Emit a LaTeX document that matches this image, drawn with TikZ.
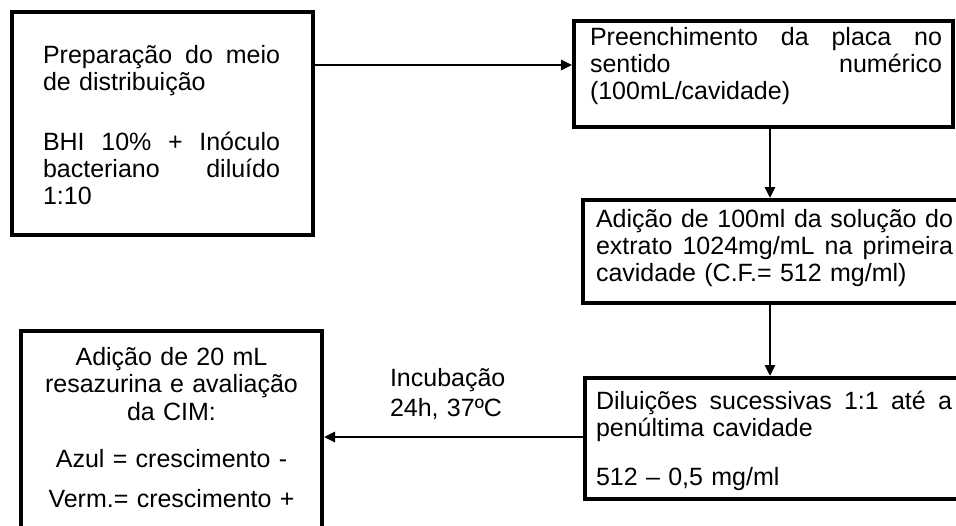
\documentclass[tikz,border=0pt]{standalone}
\usepackage{fontspec}
\setmainfont{Liberation Sans}
\usetikzlibrary{arrows.meta}
\newcommand\fl{\rule{0pt}{25pt}}
\newcommand\jl[2]{\leavevmode\hbox to #1{#2}}
\tikzset{
  frame/.style={draw=black, line width=4pt, rectangle, fill=white, inner sep=0pt},
  txt/.style={inner sep=0pt, outer sep=0pt, anchor=north west, align=left,
    font=\fontsize{25}{27}\selectfont},
  ctxt/.style={inner sep=0pt, outer sep=0pt, anchor=north, align=center,
    font=\fontsize{25}{27.5}\selectfont},
  arr/.style={draw=black, line width=2.6pt, -{Triangle[length=11pt,width=10pt]}}
}
\begin{document}
\begin{tikzpicture}[x=1pt,y=-1pt]
\useasboundingbox (0,0) rectangle (956,525);
\fill[white] (0,0) rectangle (956,525);
\clip (0,0) rectangle (956,525);
% frames
\node[frame, minimum width=301pt, minimum height=223pt] (f1) at (162.5,123.5) {};
\node[frame, minimum width=379pt, minimum height=106pt] (f2) at (763.5,74) {};
\node[frame, minimum width=407pt, minimum height=103pt] (f3) at (786.5,251.5) {};
\node[frame, minimum width=405pt, minimum height=121pt] (f4) at (787.5,438.5) {};
\node[frame, minimum width=301pt, minimum height=249pt] (f5) at (171.5,455.5) {};
% texts
\node[txt, text width=237pt] (t1) at (43,38.5) {\fl\jl{237pt}{Preparação\hfill do\hfill meio}\\
de distribuição\\[32.5pt]
\jl{237pt}{BHI\hfill 10\%\hfill +\hfill Inóculo}\\
\jl{237pt}{bacteriano\hfill diluído}\\
1:10};
\node[txt, text width=352pt] (t2) at (590,20) {\fl\jl{352pt}{Preenchimento\hfill da\hfill placa\hfill no}\\
\jl{352pt}{sentido\hfill numérico}\\
(100mL/cavidade)};
\node[txt, text width=357pt] (t3) at (596,202) {\fl\jl{357pt}{Adição\hfill de\hfill 100ml\hfill da\hfill solução\hfill do}\\
\jl{357pt}{extrato\hfill 1024mg/mL\hfill na\hfill primeira}\\
cavidade (C.F.= 512 mg/ml)};
\node[txt, text width=356pt] (t4) at (596,384) {\fl\jl{356pt}{Diluições\hfill sucessivas\hfill 1:1\hfill até\hfill a}\\
penúltima cavidade\\[22pt]
512 – 0,5 mg/ml};
\node[ctxt, text width=300pt] (t5) at (171.5,340) {\fl Adição de 20 mL\\
resazurina e avaliação\\
da CIM:\\[19.5pt]
Azul = crescimento -\\[12.5pt]
Verm.= crescimento +};
\node[txt, text width=130pt] (lab) at (390,361) {\fl Incubação\\[3pt]
24h, 37ºC};
% connectors
\draw[arr] (f1.east |- 0,65) -- (f2.west |- 0,65);
\draw[arr] (f2.south -| 770,0) -- (f3.north -| 770,0);
\draw[arr] (f3.south -| 770,0) -- (f4.north -| 770,0);
\draw[arr] (f4.west |- 0,437) -- (f5.east |- 0,437);
\end{tikzpicture}
\end{document}
